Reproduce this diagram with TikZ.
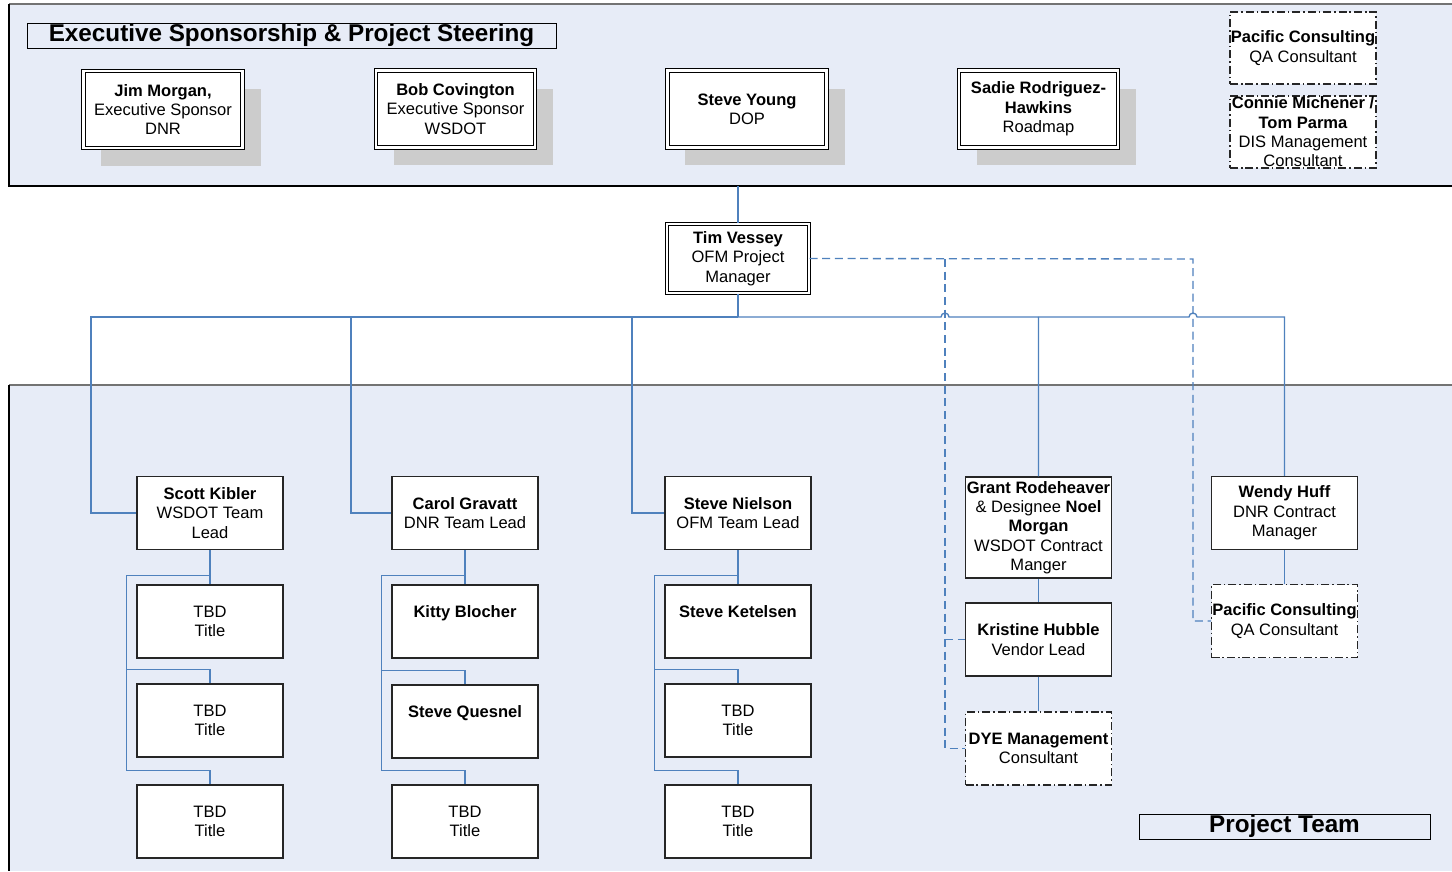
\documentclass[tikz,border=0pt]{standalone}
\usepackage{fontspec}
\setmainfont{Liberation Sans}
\usepackage{xcolor}
\usepackage{tikz}
\usetikzlibrary{shadows}

\definecolor{panelblue}{RGB}{231,236,247}
\definecolor{linkblue}{RGB}{79,129,189}
\newcommand{\boxfont}{\fontsize{12.4}{14.5}\selectfont}

\begin{document}
\begin{tikzpicture}[
  x=0.75pt, y=-0.75pt,
  manager/.style={
    rectangle,
    draw=black,
    double,
    double distance=1.8pt,
    line width=0.8pt,
    fill=white,
    minimum width=106.5pt,
    minimum height=51.75pt,
    inner sep=0.5pt,
    font=\boxfont,
    align=center
  },
  sponsor/.style={
    manager,
    minimum width=119.5pt,
    minimum height=57.5pt,
    drop shadow={shadow xshift=13.5pt, shadow yshift=-13.5pt, fill=black!20, opacity=1}
  },
  staff/.style={
    rectangle,
    draw=black!85,
    line width=1pt,
    fill=white,
    minimum width=109.5pt,
    minimum height=54.75pt,
    inner xsep=0.5pt,
    inner ysep=0pt,
    font=\boxfont,
    align=center
  },
  consultant/.style={
    staff,
    dash pattern=on 6pt off 2.2pt on 1.2pt off 2.2pt
  },
  banner/.style={
    rectangle,
    draw=black,
    line width=0.7pt,
    minimum height=18.75pt,
    inner sep=0pt,
    font=\fontsize{18.2}{20}\selectfont\bfseries
  },
  link/.style={
    draw=linkblue,
    line width=1pt
  },
  dashlink/.style={
    link,
    dash pattern=on 6pt off 3.5pt
  }
]
\useasboundingbox (0,0) rectangle (1452,871);
\fill[white] (0,0) rectangle (1452,871);

% Panels
\fill[panelblue] (9,4) rectangle (1452,186);
\draw[black!55, line width=1.3pt] (1452,4) -- (9,4);
\draw[black, line width=1pt] (9,4) -- (9,186) -- (1452,186);
\fill[panelblue] (9,385) rectangle (1452,871);
\draw[black!55, line width=1.3pt] (1452,385) -- (9,385);
\draw[black, line width=1pt] (9,385) -- (9,871);

% Steering
\node[banner, minimum width=396.75pt] (steering) at (291.5,35.5) {Executive Sponsorship \& Project Steering};
\node[sponsor] (morgan) at (163,109.5) {\textbf{Jim Morgan,}\\Executive Sponsor\\DNR};
\node[sponsor] (covington) at (455.5,109) {\textbf{Bob Covington}\\Executive Sponsor\\WSDOT};
\node[sponsor] (young) at (747,109) {\textbf{Steve Young}\\DOP};
\node[sponsor] (rodriguez) at (1038.5,109) {\textbf{Sadie Rodriguez-}\\\textbf{Hawkins}\\Roadmap};
\node[consultant, minimum height=54pt] (pacific) at (1303,48) {\textbf{Pacific Consulting}\\QA Consultant};
\node[consultant, minimum height=54pt] (michener) at (1303,132) {\textbf{Connie Michener /}\\\textbf{Tom Parma}\\DIS Management\\Consultant};

% Project manager
\node[manager] (vessey) at (738,258.5) {\textbf{Tim Vessey}\\OFM Project\\Manager};

% Team leads
\node[staff] (kibler) at (210,513) {\textbf{Scott Kibler}\\WSDOT Team\\Lead};
\node[staff] (kibler1) at (210,621.5) {TBD\\Title};
\node[staff] (kibler2) at (210,720.5) {TBD\\Title};
\node[staff] (kibler3) at (210,821.5) {TBD\\Title};

\node[staff] (gravatt) at (465,513) {\textbf{Carol Gravatt}\\DNR Team Lead};
\node[staff] (blocher) at (465,621.5) {\textbf{Kitty Blocher}\\\mbox{}};
\node[staff] (quesnel) at (465,721.5) {\textbf{Steve Quesnel}\\\mbox{}};
\node[staff] (gravatt3) at (465,821.5) {TBD\\Title};

\node[staff] (nielson) at (738,513) {\textbf{Steve Nielson}\\OFM Team Lead};
\node[staff] (ketelsen) at (738,621.5) {\textbf{Steve Ketelsen}\\\mbox{}};
\node[staff] (nielson2) at (738,720.5) {TBD\\Title};
\node[staff] (nielson3) at (738,821.5) {TBD\\Title};

% Contracts
\node[staff, minimum height=75.75pt] (rodeheaver) at (1038.5,527.5) {\textbf{Grant Rodeheaver}\\\& Designee \textbf{Noel}\\\textbf{Morgan}\\WSDOT Contract\\Manger};
\node[staff] (hubble) at (1038.5,639.5) {\textbf{Kristine Hubble}\\Vendor Lead};
\node[consultant] (dye) at (1038.5,748.5) {\textbf{DYE Management}\\Consultant};
\node[staff] (huff) at (1284.5,513) {\textbf{Wendy Huff}\\DNR Contract\\Manager};
\node[consultant] (pacificqa) at (1284.5,621) {\textbf{Pacific Consulting}\\QA Consultant};

\node[banner, minimum width=218.25pt] (projteam) at (1284.5,826.5) {Project Team};

% Reporting lines
\coordinate (steer) at (738,186);
\coordinate (hub) at (738,317);
\coordinate (jump1) at (945,317);
\coordinate (jump2) at (1193,317);
\coordinate (qa1) at (945,259);
\coordinate (qa2) at (1193,259);

\draw[link] (steer) -- (vessey.north);
\draw[link] (vessey.south) -- (hub);
\foreach \lead/\x in {kibler/91, gravatt/351, nielson/632}
  \draw[link] (hub) -- (\x,317) |- (\lead.west);
\draw[link] (hub) -- ([xshift=-3pt]jump1) arc[start angle=180, end angle=0, radius=3pt] -| (rodeheaver.north);
\draw[link] (rodeheaver.north |- hub) -- ([xshift=-3pt]jump2) arc[start angle=180, end angle=0, radius=3pt] -| (huff.north);

\foreach \head/\first/\second/\third in {kibler/kibler1/kibler2/kibler3, gravatt/blocher/quesnel/gravatt3, nielson/ketelsen/nielson2/nielson3} {
  \coordinate (\head-bus) at ([xshift=-7.5pt, yshift=6.75pt]\first.north west);
  \draw[link] (\head.south) -- (\first.north);
  \draw[link] (\head.south |- \head-bus) -- (\head-bus);
  \draw[link] (\head-bus) |- ([yshift=10.5pt]\second.north) -- (\second.north);
  \draw[link] (\head-bus) |- ([yshift=10.5pt]\third.north) -- (\third.north);
}

\draw[link] (rodeheaver.south) -- (hubble.north);
\draw[link] (hubble.south) -- (dye.north);
\draw[link] (huff.south) -- (pacificqa.north);

% Consultant lines
\draw[dashlink] (vessey.east) -- (qa2) |- (pacificqa.west);
\draw[dashlink] (qa1) |- (dye.west);
\draw[dashlink] (qa1 |- hubble.west) -- (hubble.west);
\end{tikzpicture}
\end{document}
